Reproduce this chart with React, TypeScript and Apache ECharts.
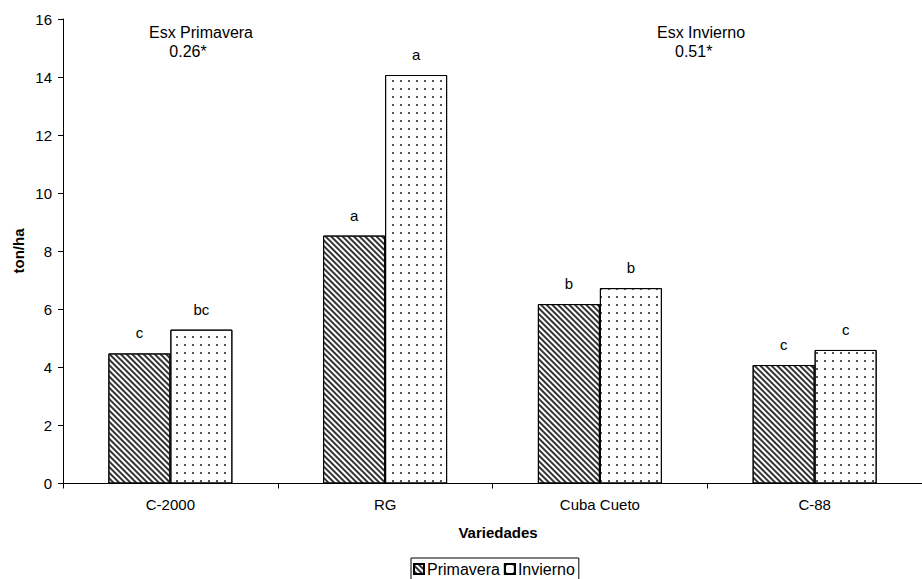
import React, { useEffect, useRef } from "react";
import * as echarts from "echarts";

const categories = ["C-2000", "RG", "Cuba Cueto", "C-88"];
const primavera = [4.48, 8.54, 6.18, 4.08];
const invierno = [5.3, 14.07, 6.73, 4.6];
const letrasPrimavera = ["c", "a", "b", "c"];
const letrasInvierno = ["bc", "a", "b", "c"];
const seriesNames = ["Primavera", "Invierno"];
const annotations = [
  { title: "Esx Primavera", value: "0.26*" },
  { title: "Esx Invierno", value: "0.51*" },
];
const axisTitleX = "Variedades";
const axisTitleY = "ton/ha";

const FONT = 'Arial, "Liberation Sans", sans-serif';

export default function App() {
  const ref = useRef<HTMLDivElement>(null);
  useEffect(() => {
    if (!ref.current) return;
    const chart = echarts.init(ref.current, undefined, { renderer: "svg" });
    const hatch = {
      symbol: "rect",
      symbolSize: 1,
      dashArrayX: [1, 0],
      dashArrayY: [1.1, 1.9],
      rotation: Math.PI / 4,
      color: "#333",
      backgroundColor: "#fff",
    };
    const dots = {
      symbol: "rect",
      symbolSize: 1,
      dashArrayX: [1.2, 5.1],
      dashArrayY: [1.2, 5.1],
      rotation: 0,
      color: "#555",
      backgroundColor: "#fff",
    };
    chart.setOption({
      animation: false,
      aria: { enabled: true, decal: { show: true } },
      backgroundColor: "#fff",
      textStyle: { fontFamily: FONT },
      grid: { left: 63, right: -12, top: 19, bottom: 95.5, containLabel: false },
      legend: {
        left: 411,
        top: 558,
        orient: "horizontal",
        borderColor: "#000",
        borderWidth: 1,
        borderRadius: 0,
        padding: [3, 4, 3, 2],
        itemWidth: 10,
        itemHeight: 10,
        itemGap: 4,
        icon: "rect",
        textStyle: { fontSize: 16, color: "#000", fontFamily: FONT, padding: [0, 0, 0, -2] },
        data: seriesNames,
      },
      xAxis: {
        type: "category",
        data: categories,
        boundaryGap: true,
        axisLine: { lineStyle: { color: "#000", width: 1 } },
        axisTick: { show: true, length: 5, alignWithLabel: false, lineStyle: { color: "#000" } },
        axisLabel: { color: "#000", fontSize: 15, margin: 13, fontFamily: FONT },
        splitLine: { show: false },
      },
      yAxis: {
        type: "value",
        min: 0,
        max: 16,
        interval: 2,
        axisLine: { show: true, lineStyle: { color: "#000", width: 1 } },
        axisTick: { show: true, length: 5, lineStyle: { color: "#000" } },
        axisLabel: { color: "#000", fontSize: 15, margin: 11, fontFamily: FONT },
        splitLine: { show: false },
      },
      series: [
        {
          name: seriesNames[0],
          type: "bar",
          data: primavera,
          barWidth: 62,
          barGap: "0%",
          itemStyle: { color: "#fff", borderColor: "#000", borderWidth: 1, decal: hatch },
          label: {
            show: true,
            position: "top",
            distance: 13,
            color: "#000",
            fontSize: 15,
            fontFamily: FONT,
            formatter: (p: any) => letrasPrimavera[p.dataIndex],
          },
        },
        {
          name: seriesNames[1],
          type: "bar",
          data: invierno,
          barWidth: 62,
          barGap: "0%",
          itemStyle: { color: "#fff", borderColor: "#000", borderWidth: 1, decal: dots },
          label: {
            show: true,
            position: "top",
            distance: 13,
            color: "#000",
            fontSize: 15,
            fontFamily: FONT,
            formatter: (p: any) => letrasInvierno[p.dataIndex],
          },
        },
      ],
      graphic: [
        {
          type: "text",
          x: 201,
          y: 32,
          style: { text: annotations[0].title, fontSize: 16, fill: "#000", fontFamily: FONT, align: "center", verticalAlign: "middle" },
        },
        {
          type: "text",
          x: 188,
          y: 51,
          style: { text: annotations[0].value, fontSize: 16, fill: "#000", fontFamily: FONT, align: "center", verticalAlign: "middle" },
        },
        {
          type: "text",
          x: 657,
          y: 32,
          style: { text: annotations[1].title, fontSize: 16, fill: "#000", fontFamily: FONT, align: "left", verticalAlign: "middle" },
        },
        {
          type: "text",
          x: 675,
          y: 51,
          style: { text: annotations[1].value, fontSize: 16, fill: "#000", fontFamily: FONT, align: "left", verticalAlign: "middle" },
        },
        {
          type: "text",
          x: 498,
          y: 532,
          style: { text: axisTitleX, fontSize: 15, fontWeight: "bold", fill: "#000", fontFamily: FONT, align: "center", verticalAlign: "middle" },
        },
        {
          type: "text",
          x: 18,
          y: 251,
          rotation: Math.PI / 2,
          style: { text: axisTitleY, fontSize: 15, fontWeight: "bold", fill: "#000", fontFamily: FONT, align: "center", verticalAlign: "middle" },
        },
      ],
    });
    return () => chart.dispose();
  }, []);
  return (
    <div
      ref={ref}
      style={{ position: "absolute", left: 0, top: 0, width: 922, height: 579 }}
    />
  );
}
